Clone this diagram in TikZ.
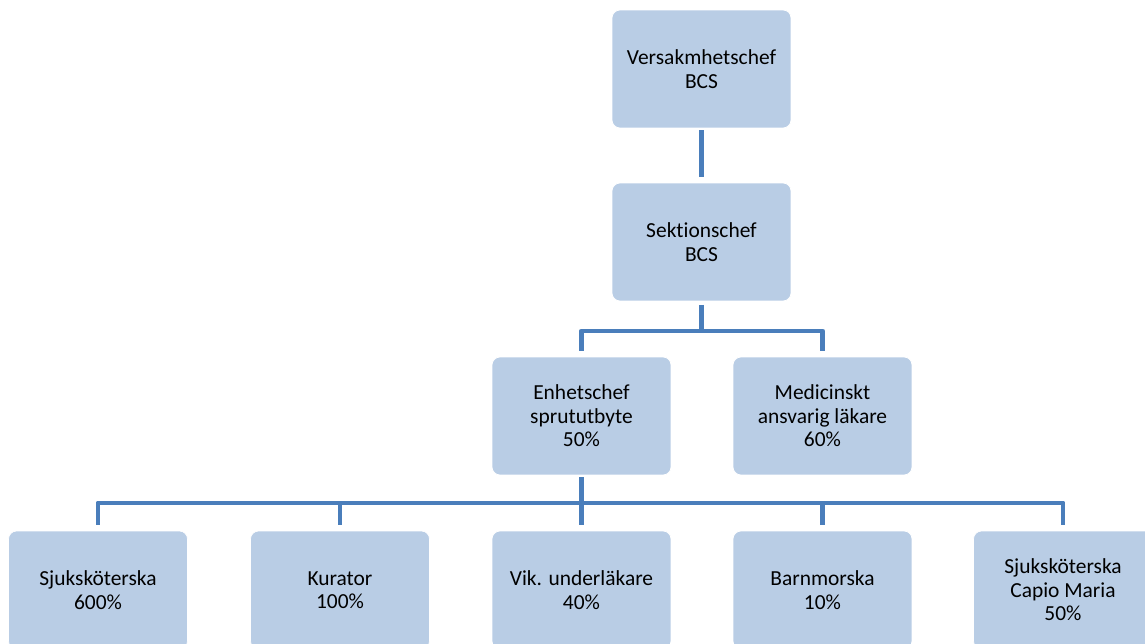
\documentclass[tikz,border=0pt]{standalone}
\usepackage{fontspec}
\setmainfont{Carlito}[Ligatures=CommonOff]
\usepackage{tikz}
\usetikzlibrary{positioning,calc}
\definecolor{boxfill}{HTML}{B9CDE5}
\definecolor{linkblue}{HTML}{4A7EBB}
\tikzstyle{unit}=[rectangle, rounded corners=0.16cm, fill=boxfill, draw=white, line width=0.4pt,
  minimum width=3.58cm, minimum height=2.36cm, align=center,
  font=\fontsize{12.2}{13.3}\selectfont]
\tikzstyle{link}=[draw=linkblue, line width=2.8pt, line join=round]

\begin{document}
\begin{tikzpicture}[x=0.02cm, y=-0.02cm]
				\useasboundingbox (0,0) rectangle (1145,644);
				\node[unit] (vc) at (701.5, 69) {Versakmhetschef\\BCS};
				\node[unit] (sc) at (701.5, 242) {Sektionschef\\BCS};
				\node[unit] (ec) at (581.5, 416) {Enhetschef\\sprututbyte\\50\%};
				\node[unit] (ml) at (822.5, 416) {Medicinskt\\ansvarig läkare\\60\%};
				\node[unit] (s1) at (98, 590) {Sjuksköterska\\600\%};
				\node[unit] (ku) at (340, 590) {Kurator\\100\%};
				\node[unit] (vu) at (581.5, 590) {Vik. underläkare\\40\%};
				\node[unit] (bm) at (822.5, 590) {Barnmorska\\10\%};
				\node[unit] (s2) at (1063, 590) {Sjuksköterska\\Capio Maria\\50\%};
				\coordinate (j1) at (701.5, 331);
				\coordinate (j2) at (581.5, 503);
				\draw[link, shorten <=1pt, shorten >=3pt] (vc) -- (sc);
				\draw[link, shorten <=2pt] (sc) -- (j1);
				\draw[link, shorten >=3pt] (j1) -| (ec.north);
				\draw[link, shorten >=3pt] (j1) -| (ml.north);
				\draw[link, shorten <=1pt] (ec) -- (j2);
				\draw[link, shorten >=3pt] (j2) -| (s1.north);
				\draw[link, shorten >=3pt] (j2) -| (ku.north);
				\draw[link, shorten >=3pt] (j2) -| (vu.north);
				\draw[link, shorten >=3pt] (j2) -| (bm.north);
				\draw[link, shorten >=3pt] (j2) -| (s2.north);
			\end{tikzpicture}
\end{document}
